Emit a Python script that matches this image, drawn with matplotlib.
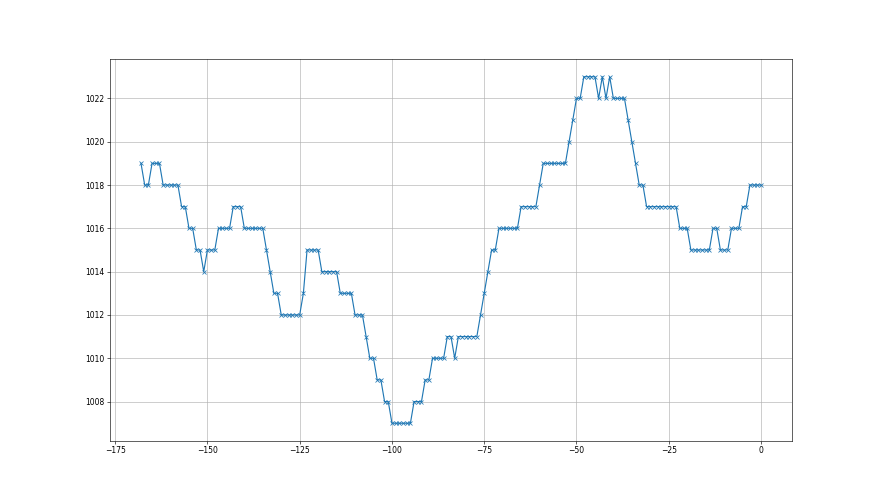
import matplotlib
matplotlib.use("Agg")
import matplotlib.pyplot as plt

hours = list(range(-168, 1))
pressure = [
    1019,
    1018, 1018,
    1019, 1019, 1019,
    1018, 1018, 1018, 1018, 1018,
    1017, 1017,
    1016, 1016,
    1015, 1015,
    1014,
    1015, 1015, 1015,
    1016, 1016, 1016, 1016,
    1017, 1017, 1017,
    1016, 1016, 1016, 1016, 1016, 1016,
    1015,
    1014,
    1013, 1013,
    1012, 1012, 1012, 1012, 1012, 1012,
    1013,
    1015, 1015, 1015, 1015,
    1014, 1014, 1014, 1014, 1014,
    1013, 1013, 1013, 1013,
    1012, 1012, 1012,
    1011,
    1010, 1010,
    1009, 1009,
    1008, 1008,
    1007, 1007, 1007, 1007, 1007, 1007,
    1008, 1008, 1008,
    1009, 1009,
    1010, 1010, 1010, 1010,
    1011, 1011,
    1010,
    1011, 1011, 1011, 1011, 1011, 1011,
    1012,
    1013,
    1014,
    1015, 1015,
    1016, 1016, 1016, 1016, 1016, 1016,
    1017, 1017, 1017, 1017, 1017,
    1018,
    1019, 1019, 1019, 1019, 1019, 1019, 1019,
    1020,
    1021,
    1022, 1022,
    1023, 1023, 1023, 1023,
    1022,
    1023,
    1022,
    1023,
    1022, 1022, 1022, 1022,
    1021,
    1020,
    1019,
    1018, 1018,
    1017, 1017, 1017, 1017, 1017, 1017, 1017, 1017, 1017,
    1016, 1016, 1016,
    1015, 1015, 1015, 1015, 1015, 1015,
    1016, 1016,
    1015, 1015, 1015,
    1016, 1016, 1016,
    1017, 1017,
    1018, 1018, 1018, 1018,
]

fig, ax = plt.subplots(figsize=(16, 9), dpi=55)
ax.plot(hours, pressure, marker="x")
ax.grid(True)
fig.savefig("out.png", dpi=55)
